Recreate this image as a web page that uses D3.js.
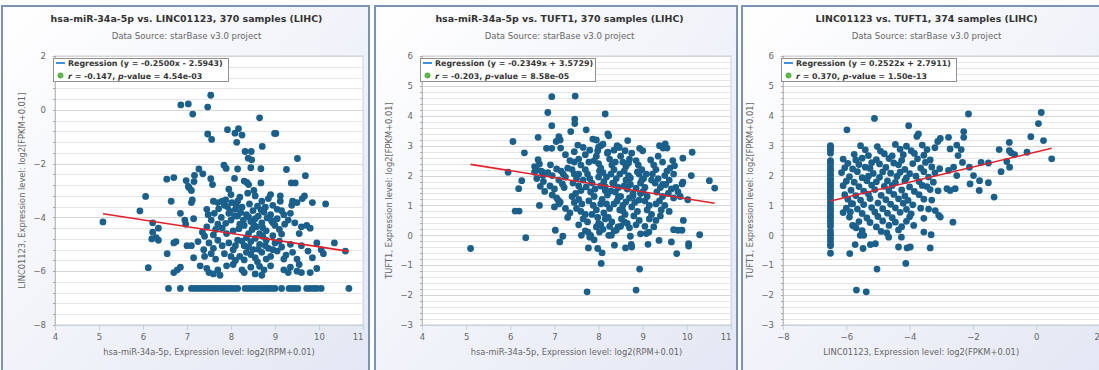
<!DOCTYPE html>
<html><head><meta charset="utf-8">
<script src="https://cdn.jsdelivr.net/npm/d3@7"></script>
<style>body{margin:0;background:#fff;}svg{display:block;}</style>
</head><body>
<svg id="c" width="1099" height="370"></svg>
<script>
// ---------------- DATA ----------------
const titles = [
  "hsa-miR-34a-5p vs. LINC01123, 370 samples (LIHC)",
  "hsa-miR-34a-5p vs. TUFT1, 370 samples (LIHC)",
  "LINC01123 vs. TUFT1, 374 samples (LIHC)"
];
const subtitle = "Data Source: starBase v3.0 project";
const xTitles = [
  "hsa-miR-34a-5p, Expression level: log2(RPM+0.01)",
  "hsa-miR-34a-5p, Expression level: log2(RPM+0.01)",
  "LINC01123, Expression level: log2(FPKM+0.01)"
];
const yTitles = [
  "LINC01123, Expression level: log2[FPKM+0.01]",
  "TUFT1, Expression level: log2[FPKM+0.01]",
  "TUFT1, Expression level: log2[FPKM+0.01]"
];
const regSlopes = [-0.2500, -0.2349, 0.2522];
const regIntercepts = [-2.5943, 3.5729, 2.7911];
const rValues = ["-0.147", "-0.203", "0.370"];
const pValues = ["4.54e-03", "8.58e-05", "1.50e-13"];
const xTicksMir = [4,5,6,7,8,9,10,11];
const yTicksLinc = [-8,-6,-4,-2,0,2];
const yTicksTuft = [-3,-2,-1,0,1,2,3,4,5,6];
const xTicksLinc = [-8,-6,-4,-2,0,2];

const ptsMirLinc = [
 [6.86,0.18],[7.03,0.22],[7.13,-0.16],[7.47,0.10],[7.54,0.54],[8.65,-0.30],
 [7.47,-0.90],[7.56,-1.10],[7.92,-0.74],[8.09,-0.87],[8.17,-0.70],[8.25,-0.94],[8.13,-1.21],[8.71,-1.36],[8.99,-0.88],[9.02,-0.88],
 [8.32,-1.55],[8.46,-1.55],[8.39,-1.80],[8.47,-1.86],[9.51,-1.81],[7.84,-2.06],[7.89,-2.18],[8.15,-2.20],[8.45,-2.15],[8.68,-2.19],[9.26,-2.22],
 [7.27,-2.20],[7.36,-2.38],[7.17,-2.44],[6.54,-2.58],[6.70,-2.52],[6.98,-2.63],[7.03,-2.85],[7.16,-2.67],[7.54,-2.56],[7.58,-2.78],[8.08,-2.55],[8.30,-2.65],[8.36,-2.70],[8.40,-2.78],[8.68,-2.72],[9.37,-2.72],[9.46,-2.72],[9.69,-2.45],
 [6.06,-3.22],[7.05,-2.90],[7.10,-3.00],[7.12,-3.35],[7.10,-3.45],[6.64,-3.40],[7.95,-2.95],[8.00,-3.15],[7.80,-3.40],[7.88,-3.35],[8.20,-3.25],[8.15,-3.40],[8.38,-3.10],[8.52,-3.00],[8.55,-3.20],[8.70,-3.40],[8.85,-3.30],[8.90,-3.15],[9.12,-3.20],[9.12,-3.40],[9.40,-3.40],[9.50,-3.45],[9.62,-3.30],[9.67,-3.20],[9.85,-3.45],[10.15,-3.50],[9.38,-3.55],[7.60,-3.40],[7.70,-3.45],
 [5.93,-3.76],[5.09,-4.17],[6.85,-3.85],[6.95,-4.10],[6.97,-4.25],[7.15,-4.05],[6.22,-4.20],[6.35,-4.40],[6.22,-4.55],[6.30,-4.75],[7.45,-3.70],[7.48,-3.90],[7.55,-4.10],[7.62,-3.85],[7.70,-4.25],[7.78,-4.00],[7.80,-4.40],[7.92,-3.60],[7.95,-3.85],[8.00,-4.10],[8.05,-4.50],[8.10,-3.70],[8.15,-3.95],[8.20,-4.25],[8.30,-4.30],[8.35,-3.90],[8.45,-4.15],[8.50,-3.75],[8.55,-4.05],[8.58,-4.35],[8.62,-3.95],[8.70,-4.20],[8.75,-3.80],[8.80,-4.50],[8.90,-3.90],[8.95,-4.20],[9.00,-4.30],[9.05,-4.05],[9.10,-4.45],[9.20,-3.90],[9.30,-4.10],[9.35,-3.85],[9.45,-4.20],[9.55,-4.60],[9.60,-4.35],[9.72,-4.30],[9.80,-4.40],[8.40,-4.60],[8.65,-4.60],[7.90,-4.60],
 [7.85,-3.55],[8.02,-3.45],[8.12,-3.58],[8.25,-3.62],[8.42,-3.50],[8.60,-3.58],[8.78,-3.62],[8.95,-3.55],[9.05,-3.70],[7.98,-3.78],[8.22,-3.82],[8.40,-3.98],[8.68,-3.72],[8.82,-4.02],[9.15,-3.75],[8.08,-3.95],[8.28,-4.10],[8.52,-4.28],[8.72,-4.38],[8.92,-4.12],[9.22,-4.25],[7.72,-3.68],[7.65,-4.45],[7.88,-4.22],[8.18,-4.42],[8.48,-4.45],[9.15,-4.62],
 [6.20,-4.80],[6.35,-4.85],[6.75,-4.90],[6.70,-4.95],[6.55,-5.35],[7.00,-5.05],[7.10,-5.05],[7.25,-4.90],[7.40,-4.70],[7.50,-4.95],[7.38,-5.20],[7.60,-5.15],[7.70,-4.85],[7.80,-5.05],[7.85,-5.35],[7.95,-4.95],[8.05,-5.20],[8.15,-4.85],[8.20,-5.45],[8.30,-5.05],[8.35,-5.30],[8.45,-4.90],[8.50,-5.20],[8.55,-5.50],[8.65,-5.00],[8.70,-5.30],[8.80,-4.85],[8.85,-5.15],[8.90,-5.45],[9.00,-4.95],[9.05,-5.25],[9.15,-5.10],[9.25,-5.40],[9.35,-5.00],[9.40,-5.30],[9.50,-5.55],[9.60,-5.05],[9.75,-5.25],[9.85,-5.50],[9.95,-4.95],[10.05,-5.20],[10.10,-5.35],[10.35,-4.95],[10.60,-5.25],[7.15,-5.50],[7.40,-5.45],[7.55,-5.35],[8.10,-5.60],[8.60,-5.65],[9.55,-5.75],
 [8.35,-4.75],[8.55,-4.78],[8.72,-4.70],[8.95,-4.68],[8.25,-4.88],[8.10,-5.05],[8.40,-5.10],[8.62,-5.18],[8.78,-5.05],[8.95,-5.20],[9.10,-4.88],[8.45,-5.38],[8.80,-5.55],[9.20,-5.55],[8.30,-5.58],[8.00,-5.45],[7.65,-5.55],[7.90,-5.80],[8.45,-5.85],[8.65,-5.82],[7.45,-4.35],[7.35,-4.55],[7.60,-4.65],
 [6.12,-5.87],[6.70,-6.05],[6.78,-5.95],[6.85,-5.85],[7.30,-5.80],[7.45,-5.90],[7.50,-6.05],[7.60,-6.10],[7.70,-5.95],[7.75,-6.15],[8.05,-5.75],[8.25,-5.95],[8.30,-6.05],[8.55,-6.10],[8.75,-5.95],[8.70,-6.15],[8.90,-5.80],[9.20,-5.95],[9.30,-6.05],[9.35,-5.85],[9.50,-6.00],[9.60,-6.05],[9.80,-6.05],[9.95,-5.90],
 [6.58,-6.64],[6.85,-6.64],[7.10,-6.64],[7.18,-6.64],[7.25,-6.64],[7.33,-6.64],[7.40,-6.64],[7.48,-6.64],[7.55,-6.64],[7.62,-6.64],[7.70,-6.64],[7.78,-6.64],[7.85,-6.64],[7.92,-6.64],[8.00,-6.64],[8.08,-6.64],[8.15,-6.64],[8.32,-6.64],[8.40,-6.64],[8.48,-6.64],[8.55,-6.64],[8.62,-6.64],[8.70,-6.64],[8.78,-6.64],[8.85,-6.64],[8.92,-6.64],[9.00,-6.64],[9.15,-6.64],[9.32,-6.64],[9.38,-6.64],[9.45,-6.64],[9.52,-6.64],[9.72,-6.64],[9.80,-6.64],[9.88,-6.64],[9.95,-6.64],[10.05,-6.64],[10.68,-6.64]
];

const ptsMirTuft = [
 [6.94,4.64],[7.47,4.66],[6.85,4.11],[7.46,3.89],[7.46,3.74],[8.15,4.06],[6.94,3.67],[7.72,3.53],[7.37,3.47],[8.21,3.39],[8.23,3.33],[7.87,3.22],[7.95,3.19],[6.06,3.14],[6.63,3.28],[7.10,3.30],[7.13,3.19],[7.04,3.14],[8.66,3.17],
 [6.82,2.91],[6.94,2.91],[7.14,2.92],[7.53,3.02],[7.65,2.94],[8.05,3.00],[7.98,2.83],[8.21,2.78],[8.42,3.00],[8.47,2.94],[8.60,2.83],[8.93,2.91],[9.00,2.83],[9.38,3.00],[9.46,2.92],[9.51,3.06],[9.55,2.92],
 [6.32,2.76],[6.63,2.53],[6.66,2.39],[6.59,2.22],[6.55,2.11],[6.73,2.11],[6.74,2.00],[6.91,2.36],[10.12,2.78],[9.91,2.58],[9.68,2.50],[9.72,2.33],[5.95,2.11],[6.26,1.83],[6.19,1.56],[6.11,0.81],[6.20,0.81],[6.35,-0.08],[5.10,-0.44],[6.66,1.00],[6.68,1.64],[6.78,1.47],[7.02,0.17],[7.12,-0.22],[7.19,-0.03],[7.09,1.17],[7.13,1.11],
 [10.10,2.00],[9.91,1.78],[9.89,1.72],[10.51,1.83],[10.63,1.58],[10.02,1.19],[9.92,0.50],[10.29,0.02],[10.04,-0.28],[10.04,-0.36],[9.77,-0.61],[9.65,-0.22],[9.70,0.19],[9.80,0.17],[9.89,0.17],[9.37,-0.17],[9.12,-0.30],[8.93,-1.13],[8.85,-1.83],[7.74,-1.89],[8.06,-0.94],[7.98,-0.44],[8.08,-0.59],[7.77,-0.42],[8.36,-0.33],[8.61,-0.42],[8.75,-0.39],[8.74,-0.30],[8.72,-0.03],[9.08,0.06],[9.14,0.11],[9.25,0.28],[7.61,0.00],[7.80,-0.06],[7.76,0.11],[8.23,0.00],[8.29,0.00],[8.40,0.17],[8.44,0.28],[8.02,0.11],[7.95,0.28],
 [7.05,2.22],[7.15,2.15],[7.20,2.05],[7.25,1.95],[7.10,1.85],[7.18,1.72],[7.22,1.60],[7.30,2.25],[7.40,2.20],[7.45,2.05],[7.50,1.90],[7.42,1.75],[7.55,1.65],[7.60,1.50],[7.48,1.40],[7.40,1.30],[7.55,1.20],[7.62,1.05],[7.50,0.90],[7.60,0.80],[7.70,0.70],[7.65,0.55],[7.75,0.45],[7.45,2.45],[7.55,2.55],[7.60,2.35],[7.70,2.20],[7.75,2.05],[7.80,1.90],[7.85,1.75],[7.72,1.62],[7.82,1.45],[7.90,1.30],[7.78,1.15],[7.88,1.00],[7.95,0.85],[7.85,0.70],[7.98,0.60],[8.05,0.35],[8.10,0.20],
 [7.90,2.50],[7.95,2.65],[8.00,2.40],[8.05,2.25],[8.10,2.10],[8.00,1.95],[8.12,1.80],[8.05,1.65],[8.15,1.50],[8.20,1.35],[8.08,1.20],[8.18,1.05],[8.25,0.90],[8.12,0.75],[8.22,0.60],[8.30,0.45],[8.20,2.75],[8.25,2.55],[8.30,2.35],[8.35,2.20],[8.28,2.05],[8.40,1.90],[8.32,1.75],[8.45,1.60],[8.38,1.45],[8.50,1.30],[8.42,1.15],[8.55,1.00],[8.48,0.85],[8.60,0.70],[8.52,0.55],[8.65,0.40],
 [8.50,2.65],[8.55,2.45],[8.62,2.30],[8.58,2.15],[8.68,2.00],[8.62,1.85],[8.72,1.70],[8.65,1.55],[8.78,1.40],[8.70,1.25],[8.82,1.10],[8.75,0.95],[8.88,0.80],[8.80,0.65],[8.92,0.50],[8.85,2.50],[8.90,2.35],[8.98,2.20],[8.92,2.05],[9.02,1.90],[8.95,1.75],[9.05,1.60],[9.00,1.45],[9.10,1.30],[9.05,1.15],[9.15,1.00],[9.10,0.85],[9.20,0.70],[9.15,0.55],
 [9.25,2.35],[9.30,2.20],[9.22,2.05],[9.35,1.90],[9.28,1.75],[9.40,1.60],[9.32,1.45],[9.45,1.30],[9.38,1.15],[9.50,1.00],[9.42,0.85],[9.55,2.15],[9.50,2.00],[9.60,1.85],[9.52,1.70],[9.65,1.55],[9.58,1.40],[9.70,1.25],[9.75,1.60],[9.80,1.45],[9.85,1.30],[9.62,2.25],[9.45,2.45],
 [6.55,2.30],[6.70,2.15],[6.85,2.10],[6.95,2.00],[6.60,1.90],[6.75,1.80],[6.90,1.65],[7.00,1.55],[6.95,1.35],[7.05,1.25],[7.10,1.05],[7.00,0.95],[7.25,0.90],[7.35,0.75],[7.30,0.60],[7.45,1.10],[7.35,2.50],[7.25,2.70],[7.45,2.80],[7.70,2.70],[7.80,2.85],[8.00,2.95],[8.10,3.05],[8.35,2.85],[8.45,2.95],[8.75,2.75],[8.70,2.55],
 [7.55,0.35],[7.70,0.15],[7.82,0.00],[7.90,-0.15],[8.00,0.40],[8.15,0.55],[8.25,0.30],[8.35,0.15],[8.50,0.30],[8.58,0.45],[8.70,0.25],[8.85,0.35],[8.95,0.05],[9.05,0.30],[9.30,0.50],[9.40,0.65],[9.60,0.80],[9.45,1.70],[9.70,2.05],
 [8.02,2.15],[8.18,1.95],[8.35,1.72],[8.48,2.05],[8.58,1.65],[8.72,1.92],[8.85,1.58],[8.98,1.85],[8.28,1.48],[8.45,1.28],[8.62,1.12],[8.78,1.32],[8.92,1.18],[8.15,1.62],[8.38,2.45],[8.68,2.42],[8.88,2.12],[9.18,2.52],[9.35,2.65],[9.20,1.85],[9.08,2.05],[8.55,0.82],[8.35,1.05],[7.92,1.55],[7.65,1.85],[7.78,2.45],[7.55,2.05],[8.05,1.05],[8.95,1.40],[9.30,1.05]
];

const ptsLincTuft = [
 [-6.5,3.00],[-6.5,2.95],[-6.5,2.90],[-6.5,2.85],[-6.5,2.75],[-6.5,2.50],[-6.5,2.45],[-6.5,2.40],[-6.5,2.30],[-6.5,2.20],[-6.5,2.15],[-6.5,2.05],[-6.5,2.00],[-6.5,1.90],[-6.5,1.85],[-6.5,1.75],[-6.5,1.70],[-6.5,1.60],[-6.5,1.50],[-6.5,1.45],[-6.5,1.40],[-6.5,1.30],[-6.5,1.20],[-6.5,1.10],[-6.5,1.00],[-6.5,0.90],[-6.5,0.85],[-6.5,0.75],[-6.5,0.65],[-6.5,0.60],[-6.5,0.50],[-6.5,0.40],[-6.5,0.30],[-6.5,0.15],[-6.5,0.05],[-6.5,0.00],[-6.5,-0.10],[-6.5,-0.20],[-6.5,-0.30],[-6.5,-0.35],[-6.5,-0.60],
 [-5.98,3.53],[-5.11,3.91],[-4.03,3.67],[-3.72,3.39],[-3.77,3.31],[-2.14,4.06],[-2.29,3.47],[-2.29,3.28],[0.16,4.11],[0.07,3.74],[0.23,3.17],[-0.17,3.30],[0.49,2.56],[-0.29,2.78],[-0.85,3.11],[-0.85,2.83],[-0.79,2.76],[-0.68,2.70],[-1.17,2.87],[-0.93,2.47],[-0.84,2.28],[-1.11,2.13],[-1.51,2.42],[-1.74,2.44],[-1.51,1.76],[-1.79,1.83],[-1.80,1.50],[-1.33,1.28],[-2.11,2.28],[-1.98,2.00],[-2.09,1.72],[-2.51,3.02],[-2.37,2.87],[-2.47,2.67],[-2.33,2.44],[-2.77,3.28],[-3.03,3.24],[-3.11,3.14],[-2.72,2.89],[-2.77,2.17],[-2.61,2.28],[-2.51,2.00],[-2.72,1.50],[-2.56,1.56],[-2.82,1.56],[-2.63,0.44],[-3.08,0.67],[-3.03,0.61],[-3.19,0.83],[-3.35,-0.42],[-3.32,0.02],[-3.55,0.11],[-4.08,-0.42],[-3.98,-0.39],[-4.12,-0.94],[-5.03,-1.13],[-5.68,-1.83],[-5.37,-1.89],[-5.89,-0.61],[-5.72,-0.31],[-5.47,-0.44],[-5.24,-0.31],[-5.08,-0.28],[-5.56,0.00],[-5.45,0.00],[-5.80,0.33],[-5.69,0.25],[-5.87,0.78],[-5.84,1.05],[-4.72,0.08],[-4.66,-0.06],[-4.35,-0.39],[-4.26,-0.06],[-3.87,0.33],
 [-5.55,3.00],[-5.02,2.97],[-4.45,3.04],[-4.10,2.98],[-3.60,3.02],[-3.20,2.93],
 [-5.40,2.86],[-4.92,2.82],[-4.30,2.88],[-3.95,2.83],[-3.45,2.87],
 [-5.75,2.71],[-5.30,2.67],[-4.80,2.73],[-4.55,2.66],[-4.20,2.70],[-3.85,2.74],[-3.55,2.68],
 [-6.10,2.55],[-5.70,2.52],[-5.50,2.58],[-5.05,2.53],[-4.65,2.57],[-4.25,2.51],[-3.75,2.56],[-3.35,2.52],
 [-5.95,2.41],[-5.60,2.37],[-5.20,2.43],[-4.95,2.39],[-4.50,2.42],[-4.35,2.36],[-3.90,2.40],[-3.50,2.44],
 [-6.05,2.26],[-5.80,2.22],[-5.40,2.28],[-5.25,2.24],[-4.75,2.27],[-4.15,2.21],[-3.65,2.25],[-3.30,2.29],[-3.05,2.23],
 [-6.15,2.10],[-5.65,2.13],[-5.15,2.07],[-4.85,2.12],[-4.60,2.08],[-4.30,2.11],[-4.00,2.06],[-3.55,2.13],[-3.20,2.09],
 [-5.90,1.96],[-5.50,1.93],[-5.30,1.98],[-4.95,1.94],[-4.40,1.97],[-4.10,1.92],[-3.80,1.98],[-3.40,1.95],
 [-6.00,1.81],[-5.75,1.78],[-5.35,1.83],[-5.05,1.79],[-4.70,1.82],[-4.45,1.77],[-4.15,1.83],[-3.70,1.80],[-3.25,1.78],
 [-6.10,1.66],[-5.60,1.63],[-5.20,1.68],[-4.80,1.64],[-4.55,1.67],[-4.00,1.62],[-3.60,1.67],[-3.45,1.63],
 [-5.85,1.51],[-5.45,1.48],[-5.10,1.53],[-4.65,1.49],[-4.25,1.52],[-3.85,1.47],[-3.35,1.53],[-3.10,1.49],
 [-6.05,1.36],[-5.70,1.33],[-5.30,1.38],[-4.90,1.34],[-4.50,1.37],[-4.15,1.32],[-3.70,1.36],
 [-5.95,1.21],[-5.55,1.18],[-5.25,1.23],[-4.75,1.19],[-4.35,1.22],[-4.05,1.17],[-3.55,1.21],[-3.30,1.18],
 [-5.80,1.06],[-5.45,1.03],[-5.00,1.08],[-4.60,1.04],[-4.20,1.07],[-3.90,1.02],
 [-6.00,0.91],[-5.65,0.88],[-5.20,0.93],[-4.85,0.89],[-4.45,0.92],[-4.10,0.87],[-3.65,0.91],[-3.40,0.88],
 [-6.10,0.76],[-5.50,0.73],[-5.10,0.78],[-4.70,0.74],[-4.30,0.77],[-3.95,0.72],
 [-5.90,0.61],[-5.35,0.58],[-5.00,0.63],[-4.55,0.59],[-4.00,0.62],[-3.55,0.57],
 [-5.60,0.46],[-5.25,0.43],[-4.85,0.48],[-4.45,0.44],[-4.10,0.47],
 [-5.75,0.31],[-5.05,0.28],[-4.65,0.33],[-4.25,0.29],
 [-5.50,0.16],[-4.90,0.13],[-4.35,0.18]
];

// ---------------- DRAW ----------------
const FONT = '"DejaVu Sans", Verdana, sans-serif';
const svg = d3.select("#c");
const defs = svg.append("defs");
const grad = defs.append("linearGradient").attr("id","bg").attr("x1",0).attr("y1",0).attr("x2",1).attr("y2",1);
grad.append("stop").attr("offset","0%").attr("stop-color","#ffffff");
grad.append("stop").attr("offset","100%").attr("stop-color","#e3e7f4");

const panels = [
  {fx:2,   fw:367, l:55,  r:363,  t:56, b:325, xd:[4,11], yd:[-8,2], xt:xTicksMir,  yt:yTicksLinc, minor:0.4, pts:ptsMirLinc},
  {fx:375, fw:362, l:422, r:731,  t:56, b:325, xd:[4,11], yd:[-3,6], xt:xTicksMir,  yt:yTicksTuft, minor:0.2, pts:ptsMirTuft},
  {fx:742, fw:364, l:783, r:1099.5,t:56, b:325, xd:[-8,2], yd:[-3,6], xt:xTicksLinc, yt:yTicksTuft, minor:0.2, pts:ptsLincTuft}
];

function fitFont(sel, target, base) {
  sel.attr("font-size", base);
  const w = sel.node().getComputedTextLength();
  const s = base * target / w;
  sel.attr("font-size", s);
  return s;
}

const meas = svg.append("g");
const titleSize = fitFont(meas.append("text").attr("font-family",FONT).attr("font-weight","bold").text(titles[0]), 272, 10);
const subSize = fitFont(meas.append("text").attr("font-family",FONT).text(subtitle), 150, 8);
const legSize = fitFont(meas.append("text").attr("font-family",FONT).attr("font-weight","bold").text("Regression (y = -0.2500x - 2.5943)"), 155, 8);
const axTitleSize = fitFont(meas.append("text").attr("font-family",FONT).text(xTitles[0]), 212, 8);
meas.remove();

panels.forEach((p, i) => {
  const g = svg.append("g");
  const x = d3.scaleLinear().domain(p.xd).range([p.l, p.r]);
  const y = d3.scaleLinear().domain(p.yd).range([p.b, p.t]);

  g.append("rect").attr("x",p.fx).attr("y",6).attr("width",p.fw).attr("height",380)
    .attr("fill","url(#bg)").attr("stroke","#7c93b3").attr("stroke-width",2);
  g.append("rect").attr("x",p.l).attr("y",p.t).attr("width",p.r-p.l).attr("height",p.b-p.t)
    .attr("fill","#ffffff").attr("stroke","#cfcfcf").attr("stroke-width",1);

  const nMinor = Math.round((p.yd[1]-p.yd[0])/p.minor);
  const minorVals = d3.range(nMinor+1).map(k => p.yd[0] + k*p.minor);
  g.append("g").selectAll("line").data(minorVals).join("line")
    .attr("x1",p.l).attr("x2",p.r)
    .attr("y1",d=>Math.round(y(d))+0.5).attr("y2",d=>Math.round(y(d))+0.5)
    .attr("stroke","#e6e6e6").attr("stroke-width",1);
  g.append("g").selectAll("line").data(p.yt).join("line")
    .attr("x1",p.l).attr("x2",p.r)
    .attr("y1",d=>Math.round(y(d))+0.5).attr("y2",d=>Math.round(y(d))+0.5)
    .attr("stroke","#d6d6d6").attr("stroke-width",1);
  g.append("line").attr("x1",p.l+0.5).attr("x2",p.l+0.5).attr("y1",p.t).attr("y2",p.b)
    .attr("stroke","#bdbdbd");
  g.append("g").selectAll("line").data(minorVals).join("line")
    .attr("x1",p.l-2).attr("x2",p.l+0.5)
    .attr("y1",d=>Math.round(y(d))+0.5).attr("y2",d=>Math.round(y(d))+0.5)
    .attr("stroke","#a8a8a8");

  const ya = g.append("g").attr("transform",`translate(${p.l},0)`)
    .call(d3.axisLeft(y).tickValues(p.yt).tickSize(0).tickPadding(9).tickFormat(d3.format("d")));
  ya.select(".domain").remove();
  ya.selectAll("text").attr("font-family",FONT).attr("font-size",8.5).attr("fill","#666");

  const xa = g.append("g").attr("transform",`translate(0,${p.b})`)
    .call(d3.axisBottom(x).tickValues(p.xt).tickSize(5).tickPadding(4).tickFormat(d3.format("d")));
  xa.select(".domain").attr("stroke","#c0d0e0");
  xa.selectAll(".tick line").attr("stroke","#c0d0e0");
  xa.selectAll("text").attr("font-family",FONT).attr("font-size",8.5).attr("fill","#666");
  xa.selectAll(".tick").each(function(d){
    const t = d3.select(this).select("text");
    const bb = t.node().getBBox();
    const right = x(d) + bb.x + bb.width;
    if (right > p.r) t.attr("dx", p.r - right);
  });

  g.append("g").selectAll("circle").data(p.pts).join("circle")
    .attr("cx",d=>x(d[0])).attr("cy",d=>y(d[1])).attr("r",3.4)
    .attr("fill","#1a608c");

  const xe = d3.extent(p.pts, d=>d[0]);
  const reg = xv => regSlopes[i]*xv + regIntercepts[i];
  g.append("line").attr("x1",x(xe[0])).attr("y1",y(reg(xe[0])))
    .attr("x2",x(xe[1])).attr("y2",y(reg(xe[1])))
    .attr("stroke","#e5202a").attr("stroke-width",1.6);

  const cx = p.fx + 184.5;
  g.append("text").attr("x",cx).attr("y",22).attr("text-anchor","middle")
    .attr("font-family",FONT).attr("font-weight","bold").attr("font-size",titleSize)
    .attr("fill","#333").text(titles[i]);
  g.append("text").attr("x",cx).attr("y",39).attr("text-anchor","middle")
    .attr("font-family",FONT).attr("font-size",subSize).attr("fill","#666").text(subtitle);
  g.append("text").attr("x",(p.l+Math.min(p.r,p.fx+p.fw))/2 + (i===2? -20:0)).attr("y",355).attr("text-anchor","middle")
    .attr("font-family",FONT).attr("font-size",axTitleSize).attr("fill","#666").text(xTitles[i]);
  const ycy = (p.t+p.b)/2;
  g.append("text").attr("transform",`translate(${p.l-30},${ycy}) rotate(-90)`).attr("text-anchor","middle")
    .attr("font-family",FONT).attr("font-size",axTitleSize).attr("fill","#666").text(yTitles[i]);

  const lx = p.l - 2, ly = 58.5;
  const lg = g.append("g");
  lg.append("rect").attr("x",lx+0.5).attr("y",ly).attr("width",175).attr("height",23)
    .attr("fill","#ffffff").attr("stroke","#909090").attr("stroke-width",1);
  lg.append("line").attr("x1",lx+3).attr("x2",lx+12).attr("y1",ly+4.5).attr("y2",ly+4.5)
    .attr("stroke","#3d94dc").attr("stroke-width",2);
  const sgn = regIntercepts[i] < 0 ? "-" : "+";
  lg.append("text").attr("x",lx+15).attr("y",ly+7.5)
    .attr("font-family",FONT).attr("font-weight","bold").attr("font-size",legSize).attr("fill","#333")
    .text(`Regression (y = ${regSlopes[i].toFixed(4)}x ${sgn} ${Math.abs(regIntercepts[i]).toFixed(4)})`);
  lg.append("circle").attr("cx",lx+7.5).attr("cy",ly+17).attr("r",3).attr("fill","#5cb84a");
  const t2 = lg.append("text").attr("x",lx+15).attr("y",ly+20)
    .attr("font-family",FONT).attr("font-weight","bold").attr("font-size",legSize).attr("fill","#333");
  t2.append("tspan").attr("font-style","italic").text("r");
  t2.append("tspan").text(` = ${rValues[i]}, `);
  t2.append("tspan").attr("font-style","italic").text("p");
  t2.append("tspan").text(`-value = ${pValues[i]}`);
});
</script>
</body></html>
